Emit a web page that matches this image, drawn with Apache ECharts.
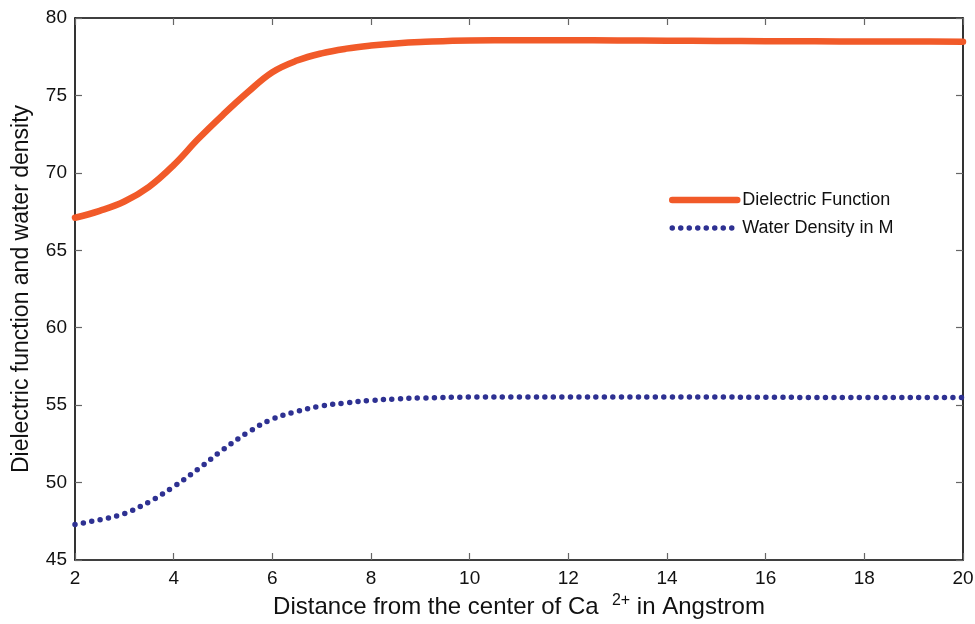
<!DOCTYPE html>
<html>
<head>
<meta charset="utf-8">
<script src="https://cdn.jsdelivr.net/npm/echarts@6/dist/echarts.min.js"></script>
<style>
  html, body { margin: 0; padding: 0; background: #fff; }
  #chart { width: 975px; height: 624px; }
</style>
</head>
<body>
<div id="chart"></div>
<script>
// distance from the ion centre (Angstrom)
var distance = [2, 2.5, 3, 3.5, 4, 4.5, 5, 5.5, 6, 6.5, 7, 7.5, 8, 8.5, 9, 10, 11, 12, 13, 14, 15, 16, 17, 18, 19, 20]
var dielectric = [67.1, 67.55, 68.15, 69.1, 70.5, 72.2, 73.75, 75.2, 76.5, 77.25, 77.72, 78.02, 78.22, 78.36, 78.45, 78.55, 78.56, 78.56, 78.55, 78.53, 78.52, 78.5, 78.5, 78.48, 78.48, 78.47]
var waterDensity = [47.3, 47.6, 48.0, 48.75, 49.73, 50.88, 52.13, 53.23, 54.1, 54.6, 54.95, 55.15, 55.3, 55.4, 55.46, 55.52, 55.53, 55.53, 55.53, 55.52, 55.52, 55.51, 55.5, 55.5, 55.5, 55.5]
var seriesNames = ['Dielectric Function', 'Water Density in M']

function pairs(ys) {
  return distance.map(function (x, i) { return [x, ys[i]] })
}

var font = 'Liberation Sans, Arial, Helvetica, sans-serif'
var orange = '#f15a29'
var blue = '#2e3192'
var chart = echarts.init(document.getElementById('chart'))

var tickInside = { show: true, inside: true, length: 7, lineStyle: { color: '#666', width: 1.2 } }
var axisLine = { show: true, onZero: false, lineStyle: { color: '#000', width: 1.6 } }

chart.setOption({
  animation: false,
  backgroundColor: '#fff',
  textStyle: { fontFamily: font },
  grid: { left: 75, right: 12, top: 18, bottom: 64, outerBoundsMode: 'none', containLabel: false },
  legend: {
    orient: 'vertical',
    left: 664,
    top: 186,
    itemWidth: 65,
    itemHeight: 14,
    itemGap: 10,
    itemStyle: { opacity: 0 },
    textStyle: { fontFamily: font, fontSize: 18, color: '#111' },
    data: [
      { name: seriesNames[0], lineStyle: { color: orange, width: 6.5, cap: 'round' } },
      { name: seriesNames[1], lineStyle: { color: blue, width: 5.5, type: [0, 8.5], cap: 'round' } }
    ]
  },
  xAxis: [{
    type: 'value',
    min: 2,
    max: 20,
    interval: 2,
    name: 'Distance from the center of Ca  {sup|2+} in Angstrom',
    nameLocation: 'middle',
    nameGap: 31,
    nameTextStyle: {
      fontFamily: font, fontSize: 24, color: '#111', lineHeight: 28,
      rich: { sup: { fontFamily: font, fontSize: 16, color: '#111', verticalAlign: 'top', lineHeight: 16, padding: [0, 0, 14, 0] } }
    },
    axisLine: axisLine,
    axisTick: tickInside,
    axisLabel: { fontFamily: font, fontSize: 19, color: '#111', margin: 9 },
    splitLine: { show: false }
  }, {
    type: 'value',
    position: 'top',
    min: 2,
    max: 20,
    interval: 2,
    axisLine: axisLine,
    axisTick: tickInside,
    axisLabel: { show: false },
    splitLine: { show: false }
  }],
  yAxis: [{
    type: 'value',
    min: 45,
    max: 80,
    interval: 5,
    name: 'Dielectric function and water density',
    nameLocation: 'middle',
    nameGap: 42,
    nameTextStyle: { fontFamily: font, fontSize: 23, color: '#111' },
    axisLine: axisLine,
    axisTick: tickInside,
    axisLabel: { fontFamily: font, fontSize: 19, color: '#111', margin: 8 },
    splitLine: { show: false }
  }, {
    type: 'value',
    position: 'right',
    min: 45,
    max: 80,
    interval: 5,
    axisLine: axisLine,
    axisTick: tickInside,
    axisLabel: { show: false },
    splitLine: { show: false }
  }],
  series: [{
    name: seriesNames[0],
    type: 'line',
    smooth: 0.4,
    showSymbol: false,
    symbol: 'none',
    data: pairs(dielectric),
    itemStyle: { color: orange },
    lineStyle: { color: orange, width: 6.5, cap: 'round' }
  }, {
    name: seriesNames[1],
    type: 'line',
    smooth: 0.4,
    showSymbol: false,
    symbol: 'none',
    data: pairs(waterDensity),
    itemStyle: { color: blue },
    lineStyle: { color: blue, width: 5.5, type: [0, 8.5], cap: 'round' }
  }]
})
</script>
</body>
</html>
